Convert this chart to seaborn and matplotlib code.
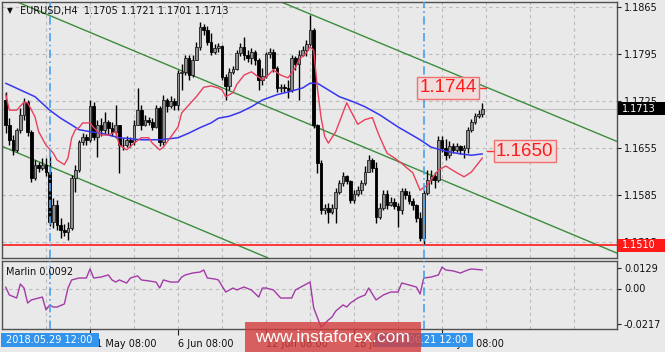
import numpy as np
import matplotlib
matplotlib.use("Agg")
import matplotlib.pyplot as plt
from matplotlib.patches import Rectangle
from matplotlib.transforms import blended_transform_factory
import seaborn as sns

# ---------------- data ----------------
symbol = "EURUSD,H4"
header_ohlc = "1.1705 1.1721 1.1701 1.1713"
first_open = 1.1726
close = np.array([
    1.1689, 1.1667, 1.1652, 1.1682, 1.1704, 1.1723, 1.1679, 1.1610, 1.1630, 1.1625,
    1.1630, 1.1619, 1.1545, 1.1570, 1.1540, 1.1533, 1.1530, 1.1536, 1.1610, 1.1622,
    1.1664, 1.1671, 1.1667, 1.1717, 1.1671, 1.1689, 1.1682, 1.1693, 1.1685, 1.1679,
    1.1689, 1.1659, 1.1659, 1.1667, 1.1664, 1.1689, 1.1711, 1.1689, 1.1696, 1.1693,
    1.1686, 1.1714, 1.1664, 1.1726, 1.1717, 1.1725, 1.1719, 1.1766, 1.1768, 1.1789,
    1.1763, 1.1786, 1.1805, 1.1835, 1.1830, 1.1812, 1.1797, 1.1803, 1.1806, 1.1760,
    1.1747, 1.1768, 1.1772, 1.1796, 1.1805, 1.1793, 1.1789, 1.1797, 1.1786, 1.1756,
    1.1762, 1.1794, 1.1797, 1.1774, 1.1744, 1.1745, 1.1744, 1.1741, 1.1789, 1.1780,
    1.1793, 1.1800, 1.1809, 1.1830, 1.1689, 1.1632, 1.1563, 1.1566, 1.1560, 1.1566,
    1.1589, 1.1603, 1.1613, 1.1606, 1.1578, 1.1587, 1.1592, 1.1603, 1.1619, 1.1637,
    1.1625, 1.1552, 1.1566, 1.1587, 1.1570, 1.1575, 1.1569, 1.1563, 1.1591, 1.1585,
    1.1576, 1.1570, 1.1551, 1.1521, 1.1588, 1.1607, 1.1613, 1.1607, 1.1667, 1.1655,
    1.1644, 1.1658, 1.1652, 1.1658, 1.1652, 1.1655, 1.1682, 1.1693, 1.1702, 1.1705,
    1.1713])
high = np.array([
    1.1738, 1.1699, 1.1674, 1.1685, 1.1714, 1.1729, 1.1726, 1.1682, 1.1637, 1.1634,
    1.1640, 1.1640, 1.1643, 1.1580, 1.1578, 1.1551, 1.1542, 1.1545, 1.1615, 1.1630,
    1.1667, 1.1677, 1.1676, 1.1726, 1.1723, 1.1696, 1.1699, 1.1708, 1.1696, 1.1693,
    1.1719, 1.1689, 1.1670, 1.1673, 1.1671, 1.1696, 1.1744, 1.1719, 1.1704, 1.1701,
    1.1699, 1.1719, 1.1717, 1.1734, 1.1729, 1.1732, 1.1729, 1.1771, 1.1780, 1.1793,
    1.1793, 1.1793, 1.1812, 1.1842, 1.1839, 1.1836, 1.1826, 1.1809, 1.1811, 1.1808,
    1.1765, 1.1774, 1.1777, 1.1800, 1.1811, 1.1820, 1.1800, 1.1803, 1.1800, 1.1789,
    1.1774, 1.1797, 1.1803, 1.1802, 1.1776, 1.1750, 1.1750, 1.1756, 1.1793, 1.1792,
    1.1800, 1.1806, 1.1815, 1.1852, 1.1833, 1.1690, 1.1637, 1.1572, 1.1573, 1.1572,
    1.1595, 1.1607, 1.1619, 1.1615, 1.1607, 1.1592, 1.1598, 1.1607, 1.1628, 1.1644,
    1.1640, 1.1634, 1.1573, 1.1592, 1.1592, 1.1582, 1.1580, 1.1573, 1.1595, 1.1595,
    1.1591, 1.1580, 1.1572, 1.1560, 1.1592, 1.1622, 1.1622, 1.1619, 1.1673, 1.1673,
    1.1668, 1.1665, 1.1662, 1.1662, 1.1659, 1.1659, 1.1686, 1.1698, 1.1707, 1.1711,
    1.1721])
low = np.array([
    1.1677, 1.1659, 1.1644, 1.1649, 1.1677, 1.1696, 1.1673, 1.1604, 1.1607, 1.1619,
    1.1622, 1.1613, 1.1539, 1.1536, 1.1533, 1.1521, 1.1524, 1.1518, 1.1533, 1.1589,
    1.1619, 1.1659, 1.1659, 1.1664, 1.1667, 1.1641, 1.1673, 1.1676, 1.1674, 1.1673,
    1.1670, 1.1618, 1.1652, 1.1656, 1.1656, 1.1659, 1.1689, 1.1682, 1.1688, 1.1689,
    1.1682, 1.1685, 1.1658, 1.1659, 1.1708, 1.1714, 1.1711, 1.1711, 1.1741, 1.1763,
    1.1756, 1.1760, 1.1786, 1.1800, 1.1823, 1.1808, 1.1793, 1.1795, 1.1797, 1.1756,
    1.1726, 1.1741, 1.1765, 1.1771, 1.1792, 1.1786, 1.1783, 1.1780, 1.1778, 1.1741,
    1.1749, 1.1759, 1.1789, 1.1768, 1.1738, 1.1738, 1.1738, 1.1729, 1.1738, 1.1771,
    1.1726, 1.1792, 1.1792, 1.1806, 1.1685, 1.1618, 1.1557, 1.1557, 1.1543, 1.1557,
    1.1543, 1.1587, 1.1598, 1.1601, 1.1573, 1.1573, 1.1584, 1.1587, 1.1600, 1.1619,
    1.1619, 1.1543, 1.1549, 1.1563, 1.1564, 1.1569, 1.1564, 1.1537, 1.1557, 1.1579,
    1.1572, 1.1563, 1.1545, 1.1517, 1.1512, 1.1585, 1.1601, 1.1596, 1.1604, 1.1649,
    1.1637, 1.1640, 1.1647, 1.1649, 1.1646, 1.1640, 1.1647, 1.1679, 1.1691, 1.1699,
    1.1701])

ma_fast_bar = [0, 1, 3, 5, 6, 8, 9, 11, 13, 14, 16, 17, 18, 19, 20, 21, 23, 24, 26, 28,
               30, 31, 33, 35, 37, 39, 40, 42, 43, 45, 47, 48, 50, 52, 54, 56, 58, 59, 60, 62,
               63, 65, 67, 70, 71, 73, 75, 77, 79, 80, 82, 83, 84, 85, 86, 87, 88, 90, 93, 94,
               96, 98, 100, 101, 102, 104, 106, 108, 109, 111, 113, 115, 117, 118, 120, 123, 125, 127, 129, 130]
ma_fast_val = [1.1735, 1.1711, 1.1711, 1.1723, 1.1722, 1.1701, 1.1679, 1.1659, 1.1647, 1.1637,
               1.1630, 1.1640, 1.1670, 1.1682, 1.1685, 1.1692, 1.1692, 1.1685, 1.1674, 1.1674,
               1.1679, 1.1659, 1.1652, 1.1662, 1.1670, 1.1670, 1.1662, 1.1652, 1.1656, 1.1671,
               1.1686, 1.1707, 1.1719, 1.1731, 1.1745, 1.1747, 1.1744, 1.1741, 1.1731, 1.1737,
               1.1749, 1.1763, 1.1768, 1.1756, 1.1760, 1.1771, 1.1763, 1.1759, 1.1774, 1.1786,
               1.1796, 1.1805, 1.1800, 1.1744, 1.1700, 1.1672, 1.1662, 1.1679, 1.1722, 1.1711,
               1.1690, 1.1697, 1.1700, 1.1685, 1.1671, 1.1647, 1.1640, 1.1632, 1.1627, 1.1618,
               1.1592, 1.1600, 1.1615, 1.1622, 1.1628, 1.1618, 1.1612, 1.1619, 1.1633, 1.1640]

ma_slow_bar = [0, 4, 8, 12, 15, 18, 20, 23, 26, 28, 31, 37, 42, 47, 50, 53, 56, 58, 61, 64,
               67, 70, 74, 77, 81, 83, 85, 88, 91, 95, 98, 102, 107, 113, 116, 120, 124, 127, 130]
ma_slow_val = [1.1751, 1.1741, 1.1731, 1.1711, 1.1699, 1.1689, 1.1682, 1.1679, 1.1677, 1.1674,
               1.1670, 1.1667, 1.1667, 1.1670, 1.1677, 1.1685, 1.1692, 1.1699, 1.1702, 1.1708,
               1.1716, 1.1726, 1.1734, 1.1738, 1.1744, 1.1751, 1.1751, 1.1741, 1.1731, 1.1723,
               1.1716, 1.1704, 1.1686, 1.1667, 1.1656, 1.1650, 1.1646, 1.1644, 1.1646]

marlin_bar = [0, 1, 3, 4, 5, 6, 7, 9, 10, 11, 12, 13, 14, 16, 17, 18, 20, 22, 23, 24,
              26, 28, 29, 30, 31, 33, 34, 36, 37, 39, 41, 42, 43, 45, 47, 48, 49, 51, 53, 54,
              55, 57, 58, 60, 62, 63, 65, 67, 69, 70, 71, 73, 75, 77, 78, 79, 80, 83, 84, 86,
              88, 89, 90, 92, 93, 94, 96, 98, 99, 101, 103, 105, 107, 108, 110, 112, 113, 114, 116, 118,
              119, 120, 122, 124, 126, 127, 130]
marlin_val = [0.0009, -0.0040, -0.0059, 0.0028, 0.0003, -0.0090, -0.0071, -0.0059, -0.0053, -0.0133,
              -0.0102, -0.0115, -0.0115, -0.0096, 0.0003, 0.0053, 0.0065, 0.0065, 0.0121, 0.0065,
              0.0071, 0.0084, 0.0053, 0.0040, 0.0053, 0.0034, 0.0065, 0.0078, 0.0053, 0.0047,
              0.0040, 0.0003, 0.0053, 0.0040, 0.0040, 0.0071, 0.0084, 0.0096, 0.0102, 0.0115,
              0.0065, 0.0059, 0.0053, -0.0022, 0.0003, -0.0009, 0.0009, -0.0009, -0.0053, 0.0003,
              0.0003, -0.0009, -0.0059, -0.0059, -0.0059, -0.0009, 0.0003, 0.0040, -0.0121, -0.0239,
              -0.0195, -0.0177, -0.0140, -0.0102, -0.0115, -0.0090, -0.0059, -0.0040, 0.0003, -0.0071,
              -0.0040, -0.0022, -0.0022, 0.0034, 0.0022, 0.0009, -0.0034, 0.0065, 0.0071, 0.0084,
              0.0133, 0.0115, 0.0109, 0.0096, 0.0115, 0.0121, 0.0115]
marlin_name = "Marlin"
marlin_last = "0.0092"

price_ticks = [1.1865, 1.1795, 1.1725, 1.1655, 1.1585, 1.1515]
marlin_ticks = [0.0129, 0.0, -0.0217]
marlin_tick_labels = ["0.0129", "0.00", "-0.0217"]
grid_bars = list(range(11, 167, 12))
time_tick_bars = [23, 47, 71, 95, 119]
time_tick_labels = ["31 May 08:00", "6 Jun 08:00", "12 Jun 08:00", "18 Jun 08:00", "22 Jun 08:00"]
cursor_bars = [12, 114]
cursor_labels = ["2018.05.29 12:00", "2018.06.21 12:00"]
support_level = 1.1510
target_levels = [1.1744, 1.1650]
channel_lines = [[(75, 1.1872), (170, 1.1657)],
                 [(0, 1.1879), (170, 1.1491)],
                 [(0, 1.1655), (80, 1.1472)]]
watermark = "www.instaforex.com"

# ---------------- styling ----------------
sns.set_theme(style="white")
plt.rcParams['font.family'] = ['DejaVu Sans']

W, H = 665, 352
BG = '#e9e9e9'
GRID = '#bcbcbc'
FRAME = '#505050'
GREEN = '#3c8c3c'
fig = plt.figure(figsize=(W / 100, H / 100), dpi=100)
fig.patch.set_facecolor(BG)


def rect(l, t, r, b):
    return [l / W, 1 - b / H, (r - l) / W, (b - t) / H]


ax = fig.add_axes(rect(2, 2, 617, 258))
ax2 = fig.add_axes(rect(2, 261, 617, 329))
XL = (-1.0, 166.7)
for a in (ax, ax2):
    a.set_facecolor(BG)
    a.set_xlim(*XL)
    for s in a.spines.values():
        s.set_color(FRAME)
        s.set_linewidth(1.0)
        s.set_visible(True)

ax.set_ylim(1.14913, 1.18717)
ax2.set_ylim(-0.02511, 0.01705)

# grid
for a in (ax, ax2):
    for gb in grid_bars:
        a.axvline(gb, color=GRID, lw=0.8, ls=(0, (3, 3)), zorder=0)
for p in price_ticks:
    ax.axhline(p, color=GRID, lw=0.8, ls=(0, (3, 3)), zorder=0)
ax2.axhline(0.0, color=GRID, lw=0.8, ls=(0, (3, 3)), zorder=0)

# candles
bars = np.arange(len(close))
opens = np.concatenate([[first_open], close[:-1]])
up = close >= opens
body_lo = np.minimum(opens, close)
body_h = np.maximum(np.abs(close - opens), 0.00004)
ax.vlines(bars, low, high, color='black', lw=1.0, zorder=3)
ax.bar(bars[up], body_h[up], bottom=body_lo[up], width=0.75, color='#8f8f8f',
       edgecolor='#202020', linewidth=0.6, zorder=4)
ax.bar(bars[~up], body_h[~up], bottom=body_lo[~up], width=0.75, color='black',
       edgecolor='black', linewidth=0.6, zorder=4)

# moving averages
sns.lineplot(x=ma_slow_bar, y=ma_slow_val, ax=ax, color='#3636f0', lw=1.1, zorder=5)
sns.lineplot(x=ma_fast_bar, y=ma_fast_val, ax=ax, color='#e8405c', lw=1.0, zorder=5)

# channel
for (p1, p2) in channel_lines:
    ax.axline(p1, p2, color=GREEN, lw=1.0, zorder=2)

# levels
ax.axhline(support_level, color='#ff1a1a', lw=1.2, zorder=2)
ax.axhline(close[-1], color='#c4c4c4', lw=0.8, zorder=1)

# cursor lines
for cb in cursor_bars:
    for a in (ax, ax2):
        a.axvline(cb, color='#4aa0f0', lw=1.2, ls=(0, (5, 2, 1, 2)), zorder=6)

# marlin
sns.lineplot(x=marlin_bar, y=marlin_val, ax=ax2, color='#a23aa8', lw=1.0, zorder=5)

# axes ticks
ax.yaxis.tick_right()
ax.set_yticks(price_ticks)
ax.set_yticklabels([f"{p:.4f}" for p in price_ticks])
ax.set_xticks([])
ax.tick_params(axis='y', length=3, width=0.8, color='#202020', pad=2, labelsize=7,
               labelcolor='#101010', right=True, left=False)
ax2.yaxis.tick_right()
ax2.set_yticks(marlin_ticks)
ax2.set_yticklabels(marlin_tick_labels)
ax2.tick_params(axis='y', length=3, width=0.8, color='#202020', pad=2, labelsize=7,
                labelcolor='#101010', right=True, left=False)
ax2.set_xticks(time_tick_bars)
ax2.set_xticklabels(time_tick_labels, ha='left')
ax2.tick_params(axis='x', length=4, width=0.8, color='#202020', pad=3, labelsize=7,
                labelcolor='#101010', bottom=True)
ax.set_xlabel(''); ax.set_ylabel('')
ax2.set_xlabel(''); ax2.set_ylabel('')

# header texts
fig.text(7 / W, 1 - 11 / H, "\u25BC", fontsize=5.5, color='#101010', va='center', ha='left')
fig.text(20 / W, 1 - 11 / H, f"{symbol}  {header_ohlc}", fontsize=7, color='#101010',
         va='center', ha='left')
fig.text(6 / W, 1 - 272 / H, f"{marlin_name} {marlin_last}", fontsize=7, color='#101010',
         va='center', ha='left')

# target labels with connectors
lab_font = dict(family=['Liberation Sans', 'DejaVu Sans'], fontsize=13.5, color='#ff1a1a')
box_kw = dict(boxstyle='square,pad=0.12', fc='#f1dcdc', ec='#f07070', lw=1.0)
ax.text(120.6, target_levels[0], f"{target_levels[0]:.4f}", ha='center', va='center',
        bbox=box_kw, zorder=8, **lab_font)
ax.plot([128.6, 130.9], [target_levels[0]] * 2, color='#ff3030', lw=1.0, zorder=7)
ax.text(141.5, target_levels[1], f"{target_levels[1]:.4f}", ha='center', va='center',
        bbox=box_kw, zorder=8, **lab_font)
ax.plot([131.2, 133.8], [target_levels[1]] * 2, color='#ff3030', lw=1.0, zorder=7)

# price-scale labels (current price and support)
tr = blended_transform_factory(fig.transFigure, ax.transData)
ppx = (1.18717 - 1.14913) / 256.0
for lvl, col in ((close[-1], '#000000'), (support_level, '#ff1a1a')):
    fig.patches.append(Rectangle((618 / W, lvl - 6.5 * ppx), 47 / W, 13 * ppx,
                                 transform=tr, facecolor=col, edgecolor='none', zorder=3))
    fig.text(622 / W, lvl, f"{lvl:.4f}", transform=tr, fontsize=7, color='white',
             va='center', ha='left', zorder=4)

# cursor date boxes
fig.canvas.draw()
for cb, cl in zip(cursor_bars, cursor_labels):
    xpx = ax.transData.transform((cb, 1.17))[0]
    fig.patches.append(Rectangle(((xpx - 49) / W, 1 - 347 / H), 98 / W, 14 / H,
                                 transform=fig.transFigure, facecolor='#3394ee',
                                 edgecolor='none', zorder=5))
    fig.text(xpx / W, 1 - 340 / H, cl, fontsize=7, color='white', ha='center',
             va='center', zorder=6)

# watermark
fig.patches.append(Rectangle((245 / W, 0), 176 / W, 30 / H, transform=fig.transFigure,
                             facecolor='#d43c3c', alpha=0.8, edgecolor='none', zorder=9))
fig.text(332 / W, 1 - 337 / H, watermark, fontsize=12.5, color='white', ha='center',
         va='center', family=['Liberation Sans', 'DejaVu Sans'], zorder=10)

fig.savefig("out.png", dpi=100, facecolor=BG)
